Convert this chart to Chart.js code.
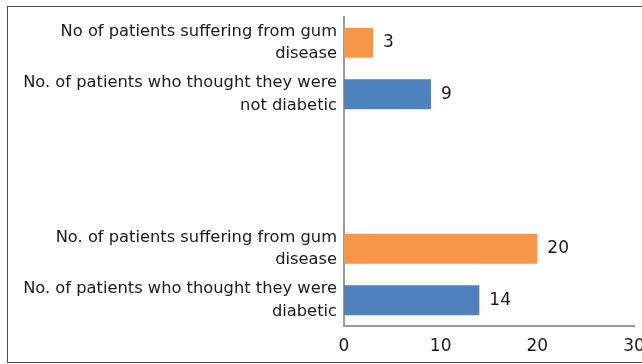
<!DOCTYPE html>
<html>
<head>
<meta charset="utf-8">
<script src="https://cdn.jsdelivr.net/npm/chart.js@4/dist/chart.umd.min.js"></script>
<style>
  html, body { margin: 0; padding: 0; background: #fff; overflow: hidden; }
  #wrap { position: relative; width: 642px; height: 364px; }
  #frame { position: absolute; left: 7px; top: 6px; width: 700px; height: 355px; border: 1px solid #4d4d4d; pointer-events: none; }
</style>
</head>
<body>
<div id="wrap">
  <canvas id="c" width="642" height="364"></canvas>
  <div id="frame"></div>
</div>
<script>
// Categories, top to bottom (two empty slots separate the groups)
const categories = [
  ["No of patients suffering from gum", "disease"],
  ["No. of patients who thought they were", "not diabetic"],
  "",
  "",
  ["No. of patients suffering from gum", "disease"],
  ["No. of patients who thought they were", "diabetic"]
];
const values = [3, 9, null, null, 20, 14];
const barColors = ["#F79646", "#4F81BD", "#4F81BD", "#4F81BD", "#F79646", "#4F81BD"];
const xTicks = [0, 10, 20, 30];

const textColor = "#1a1a1a";
const labelFont = { family: "'DejaVu Sans', sans-serif", size: 16.3, lineHeight: 1.36 };
const numFont = { family: "'DejaVu Sans', sans-serif", size: 17 };

const valueLabels = {
  id: "valueLabels",
  afterDatasetsDraw(chart) {
    const ctx = chart.ctx;
    const meta = chart.getDatasetMeta(0);
    ctx.save();
    ctx.font = numFont.size + "px " + numFont.family;
    ctx.fillStyle = textColor;
    ctx.textAlign = "left";
    ctx.textBaseline = "middle";
    meta.data.forEach((bar, i) => {
      const v = chart.data.datasets[0].data[i];
      if (v === null || v === undefined) return;
      ctx.fillText(String(v), bar.x + 10, bar.y);
    });
    ctx.restore();
  }
};

new Chart(document.getElementById("c"), {
  type: "bar",
  data: {
    labels: categories,
    datasets: [{
      data: values,
      backgroundColor: barColors,
      borderWidth: 0,
      barPercentage: 0.58,
      categoryPercentage: 1.0
    }]
  },
  options: {
    indexAxis: "y",
    responsive: false,
    animation: false,
    events: [],
    layout: { padding: { left: 0, right: 8, top: 17, bottom: 0 } },
    plugins: { legend: { display: false }, tooltip: { enabled: false } },
    scales: {
      x: {
        min: 0, max: 30,
        afterBuildTicks(scale) { scale.ticks = xTicks.map(v => ({ value: v })); },
        afterFit(scale) { scale.height = 38; scale.paddingLeft = 0; scale.paddingRight = 0; },
        grid: { display: false, drawTicks: false },
        border: { display: true, color: "#9a9a9a", width: 2 },
        ticks: { color: textColor, font: numFont, padding: 10, maxRotation: 0 }
      },
      y: {
        afterFit(scale) { scale.width = 344; scale.paddingTop = 0; scale.paddingBottom = 0; },
        grid: { display: false, drawTicks: false },
        border: { display: true, color: "#9a9a9a", width: 2 },
        ticks: { color: textColor, font: labelFont, padding: 7, autoSkip: false }
      }
    }
  },
  plugins: [valueLabels]
});
</script>
</body>
</html>
